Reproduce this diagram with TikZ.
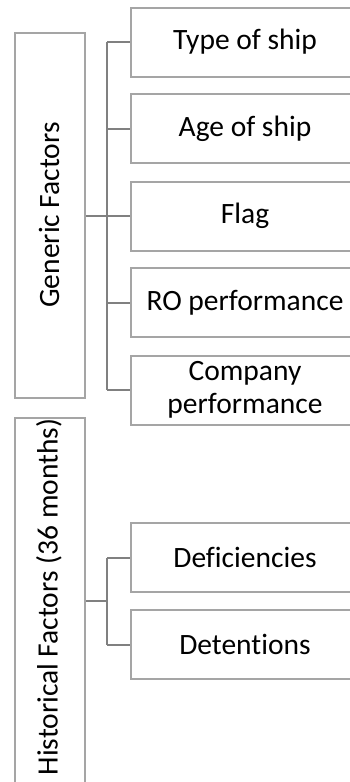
\documentclass[tikz,border=0pt]{standalone}
\usepackage{fontspec}
\setmainfont{Carlito}[Ligatures=CommonOff]
\begin{document}
\begin{tikzpicture}[x=1pt,y=-1pt,
  box/.style={draw=boxgray,line width=2pt,inner sep=0pt},
  leaf/.style={box,minimum width=228pt,minimum height=69pt,anchor=west,
    align=center,font=\fontsize{29.5}{33}\selectfont},
  group/.style={box,minimum width=70pt,anchor=north west},
  grouplabel/.style={rotate=90,font=\fontsize{29.5}{33}\selectfont,inner sep=0pt},
  link/.style={draw=linkgray,line width=2pt}]
\definecolor{boxgray}{RGB}{165,165,165}
\definecolor{linkgray}{RGB}{128,128,128}
\useasboundingbox (0,0) rectangle (350,782);

% category boxes on the left
\node[group,minimum height=365pt] (gen) at (14,32) {};
\node[grouplabel] (genlab) at (49,215) {Generic Factors};
\node[group,minimum height=375pt] (hist) at (14,417) {};
\node[grouplabel] (histlab) at (49,597) {Historical Factors (36 months)};

% factor boxes on the right
\node[leaf] (t1) at (130,42)  {Type of ship};
\node[leaf] (t2) at (130,128.5) {Age of ship};
\node[leaf] (t3) at (130,216) {Flag};
\node[leaf] (t4) at (130,302.5) {RO performance};
\node[leaf] (t5) at (130,390) {Company\\performance};
\node[leaf] (h1) at (130,557.5) {Deficiencies};
\node[leaf] (h2) at (130,644.5) {Detentions};

% junction points on the trunks
\coordinate (jg) at (107,216);
\coordinate (jh) at (107,601);

% generic factors tree
\draw[link] (gen.east |- jg) -- (jg);
\draw[link] (jg |- t1.west) -- (jg |- t5.west);
\foreach \n in {t1,t2,t3,t4,t5}
  \draw[link] (jg |- \n.west) -- (\n.west);

% historical factors tree
\draw[link] (hist.east |- jh) -- (jh);
\draw[link] (jh |- h1.west) -- (jh |- h2.west);
\foreach \n in {h1,h2}
  \draw[link] (jh |- \n.west) -- (\n.west);
\end{tikzpicture}
\end{document}
